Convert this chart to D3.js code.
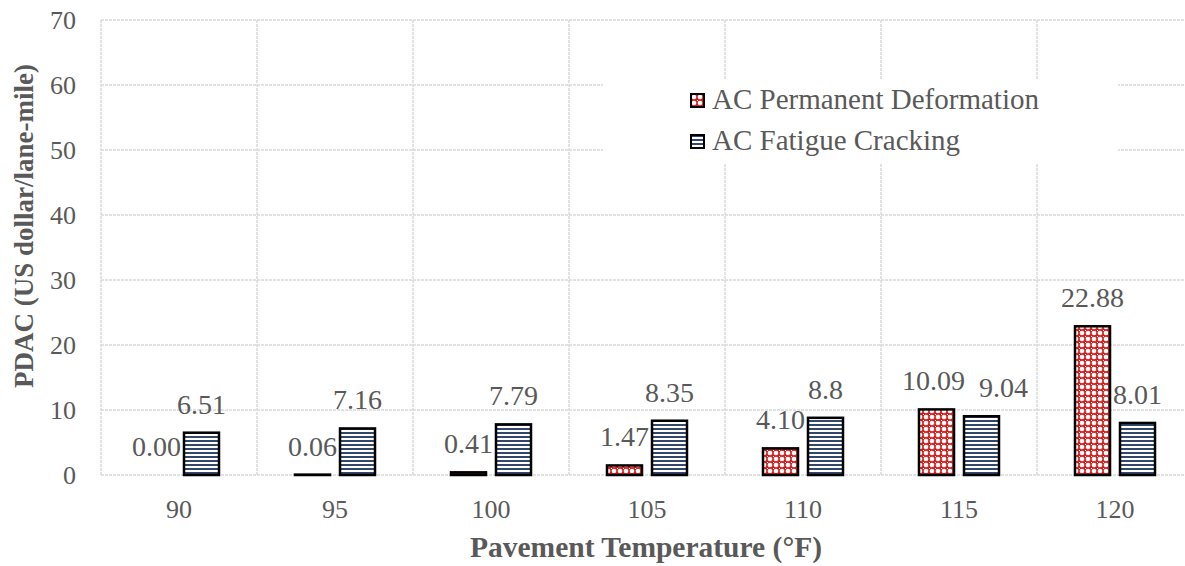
<!DOCTYPE html>
<html lang="en">
<head>
  <meta charset="utf-8">
  <script src="https://cdn.jsdelivr.net/npm/d3@7/dist/d3.min.js"></script>
  <style>
    body {
      margin: 0;
      background: #fff;
      overflow: hidden;
    }
    svg text {
      font-family: 'Liberation Serif', serif;
      fill: #595959;
    }
    .grid line {
      stroke: #d9d9d9;
      stroke-width: 1.5;
      stroke-dasharray: 3, 1;
    }
  </style>
</head>
<body>
  <svg id="chart" width="1185" height="566"></svg>
  <script>
    // data
    var temps = ['90', '95', '100', '105', '110', '115', '120'];
    var series = ['AC Permanent Deformation', 'AC Fatigue Cracking'];
    var deformation = [0.00, 0.06, 0.41, 1.47, 4.10, 10.09, 22.88];
    var fatigue = [6.51, 7.16, 7.79, 8.35, 8.8, 9.04, 8.01];
    var deformationLabels = ['0.00', '0.06', '0.41', '1.47', '4.10', '10.09', '22.88'];
    var fatigueLabels = ['6.51', '7.16', '7.79', '8.35', '8.8', '9.04', '8.01'];
    var yTicks = [0, 10, 20, 30, 40, 50, 60, 70];

    var margin = { top: 20, left: 101, bottom: 91 };
    var height = 566 - margin.top - margin.bottom;
    var step = 156;

    var svg = d3.select('#chart');

    // fill patterns
    var defs = svg.append('defs');
    var pRed = defs.append('pattern')
      .attr('id', 'pat-red')
      .attr('patternUnits', 'userSpaceOnUse')
      .attr('width', 6).attr('height', 6);
    pRed.append('rect').attr('width', 6).attr('height', 6).attr('fill', '#d62020');
    pRed.append('circle').attr('cx', 3).attr('cy', 3).attr('r', 2.3).attr('fill', '#fff');
    pRed.append('rect').attr('x', 0).attr('y', 0).attr('width', 1).attr('height', 1).attr('fill', '#fff');

    var pBlue = defs.append('pattern')
      .attr('id', 'pat-blue')
      .attr('patternUnits', 'userSpaceOnUse')
      .attr('width', 6).attr('height', 4);
    pBlue.append('rect').attr('width', 6).attr('height', 4).attr('fill', '#ffffff');
    pBlue.append('rect').attr('width', 6).attr('height', 2).attr('fill', '#33476b');

    var xScale = d3.scaleBand()
      .domain(temps)
      .range([margin.left, margin.left + step * temps.length]);

    var xSub = d3.scaleBand()
      .domain(series)
      .range([38, 118])
      .paddingInner(2 - 80 / 45);

    var yScale = d3.scaleLinear()
      .domain([0, 70])
      .range([margin.top + height, margin.top]);

    // grid
    var grid = svg.append('g').attr('class', 'grid');
    grid.selectAll('.h')
      .data(yTicks)
      .enter().append('line')
      .attr('class', 'h')
      .attr('x1', margin.left)
      .attr('x2', margin.left + step * temps.length)
      .attr('y1', function (d) { return yScale(d); })
      .attr('y2', function (d) { return yScale(d); });

    grid.selectAll('.v')
      .data(temps.concat(['end']))
      .enter().append('line')
      .attr('class', 'v')
      .attr('x1', function (d, i) { return margin.left + i * step; })
      .attr('x2', function (d, i) { return margin.left + i * step; })
      .attr('y1', yScale(0))
      .attr('y2', yScale(70));

    // y tick labels
    svg.append('g')
      .selectAll('text')
      .data(yTicks)
      .enter().append('text')
      .attr('x', 76)
      .attr('y', function (d) { return yScale(d); })
      .attr('dy', '0.33em')
      .attr('text-anchor', 'end')
      .style('font-size', '26px')
      .text(function (d) { return d; });

    // x tick labels
    svg.append('g')
      .selectAll('text')
      .data(temps)
      .enter().append('text')
      .attr('x', function (d) { return xScale(d) + xScale.bandwidth() / 2; })
      .attr('y', 518)
      .attr('text-anchor', 'middle')
      .style('font-size', '26px')
      .text(function (d) { return d; });

    // legend background and items
    svg.append('rect')
      .attr('x', 603).attr('y', 80)
      .attr('width', 515).attr('height', 83)
      .attr('fill', '#fff');

    var legend = svg.append('g')
      .selectAll('g')
      .data(series)
      .enter().append('g')
      .attr('transform', function (d, i) { return 'translate(691,' + (94 + i * 41) + ')'; });
    legend.append('rect')
      .attr('width', 13).attr('height', 13)
      .attr('fill', function (d, i) { return i === 0 ? 'url(#pat-red)' : 'url(#pat-blue)'; })
      .attr('stroke', '#000')
      .attr('stroke-width', 2);
    legend.append('text')
      .attr('x', 21)
      .attr('y', 15)
      .style('font-size', '29px')
      .text(function (d) { return d; });

    // bars
    var rows = temps.map(function (t, i) {
      return { temp: t, values: [deformation[i], fatigue[i]], labels: [deformationLabels[i], fatigueLabels[i]] };
    });

    var groups = svg.append('g')
      .selectAll('g')
      .data(rows)
      .enter().append('g')
      .attr('transform', function (d) { return 'translate(' + xScale(d.temp) + ',0)'; });

    groups.selectAll('rect')
      .data(function (d) { return d.values.map(function (v, i) { return { s: series[i], v: v, i: i }; }); })
      .enter().append('rect')
      .attr('x', function (d) { return xSub(d.s); })
      .attr('y', function (d) { return yScale(d.v); })
      .attr('width', xSub.bandwidth())
      .attr('height', function (d) { return yScale(0) - yScale(d.v); })
      .attr('fill', function (d) { return d.i === 0 ? 'url(#pat-red)' : 'url(#pat-blue)'; })
      .attr('stroke', '#000')
      .attr('stroke-width', 2.5);

    // labels that would collide get pushed apart, like Excel did for 115
    groups.selectAll('text')
      .data(function (d) {
        var crowded = d.labels[0].length > 4 && Math.abs(d.values[0] - d.values[1]) < 3;
        return d.values.map(function (v, i) {
          var nudge = crowded ? (i === 0 ? -3 : 22) : 0;
          return { s: series[i], v: v, label: d.labels[i], nudge: nudge };
        });
      })
      .enter().append('text')
      .attr('x', function (d) { return xSub(d.s) + xSub.bandwidth() / 2 + d.nudge; })
      .attr('y', function (d) { return yScale(d.v) - 19; })
      .attr('text-anchor', 'middle')
      .style('font-size', '28px')
      .text(function (d) { return d.label; });

    // axis titles
    svg.append('text')
      .attr('x', 646)
      .attr('y', 557)
      .attr('text-anchor', 'middle')
      .style('font-size', '29.5px')
      .style('font-weight', 'bold')
      .text('Pavement Temperature (°F)');

    svg.append('text')
      .attr('transform', 'translate(33,226) rotate(-90)')
      .attr('text-anchor', 'middle')
      .style('font-size', '27px')
      .style('font-weight', 'bold')
      .text('PDAC (US dollar/lane-mile)');
  </script>
</body>
</html>
